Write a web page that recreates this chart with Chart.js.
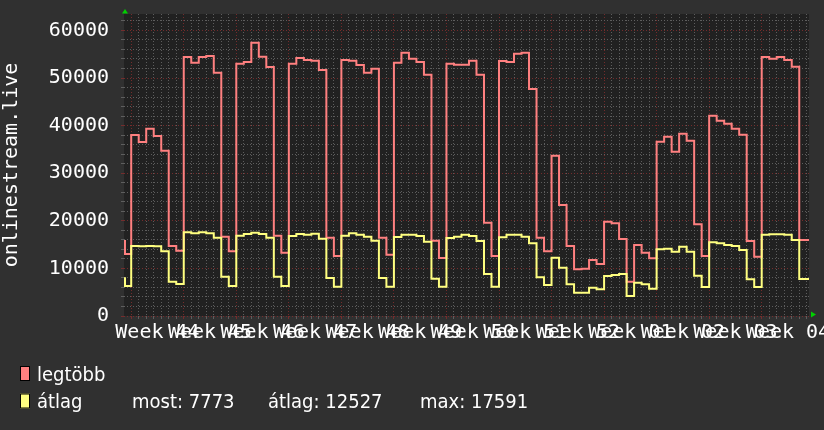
<!DOCTYPE html>
<html lang="hu">
<head>
<meta charset="utf-8">
<title>onlinestream.live</title>
<script src="https://cdn.jsdelivr.net/npm/chart.js@4.4.1/dist/chart.umd.min.js"></script>
<style>
    html, body { margin: 0; padding: 0; background: #303030; }
    #keret { width: 824px; height: 430px; }
</style>
</head>
<body>
<div id="keret"><canvas id="grafikon" width="824" height="430"></canvas></div>
<script>
// hetek a tengelyen (Week 44 ... Week 04)
const hetek = ["44", "45", "46", "47", "48", "49", "50", "51", "52", "01", "02", "03", "04"];

// napi értékek: első elem a grafikon bal szélén lévő rövid darab, utána vasárnap, majd hetenként H-V
const legtobb = [
    15760, 13030,
    38030, 36560, 39360, 37820, 34740, 14710, 13730,
    54410, 53230, 54410, 54620, 51130, 16670, 13590,
    53010, 53370, 57420, 54480, 52320, 16880, 13310,
    53010, 54210, 53790, 53640, 51690, 16460, 12610,
    53790, 53640, 52730, 51130, 51960, 16460, 12890,
    53230, 55320, 54060, 53370, 50700, 15830, 12190,
    53010, 52800, 52800, 53640, 50700, 19610, 12610,
    53580, 53370, 55110, 55320, 47690, 16460, 13590,
    33690, 23320, 14710, 9810, 9940, 11770, 10920,
    19820, 19470, 16180, 7210, 14920, 13300, 12120,
    36620, 37670, 34520, 38300, 36830, 19260, 12610,
    42080, 41030, 40400, 39350, 38090, 15760, 12470,
    54410, 54060, 54410, 53790, 52380, 15970, 15970
];

const atlag = [
    7910, 6300,
    14710, 14640, 14710, 14640, 13590, 7210, 6720,
    17591, 17370, 17580, 17370, 16460, 8260, 6300,
    16880, 17230, 17510, 17230, 16460, 8260, 6300,
    16810, 17230, 17090, 17300, 16250, 7980, 6160,
    16880, 17370, 17090, 16670, 15830, 7980, 6160,
    16600, 17090, 17090, 16810, 15620, 7840, 6160,
    16390, 16670, 17090, 16810, 15760, 8820, 6160,
    16530, 17090, 17090, 16670, 15270, 8120, 6510,
    12250, 10150, 6660, 4900, 4900, 5950, 5600,
    8400, 8610, 8820, 4200, 7000, 6660, 5740,
    14010, 14150, 13520, 14570, 13520, 8470, 6090,
    15480, 15270, 14920, 14710, 13870, 7700, 6090,
    17090, 17160, 17160, 17090, 15970, 7773, 7773
];

const osszesites = ["most: 7773", "átlag: 12527", "max: 17591"];

// időtengely napokban, 0 = a 44. hét hétfője
const xMin = -0.96;
const xMax = 90.3;
const elsoHatar = -0.83;
const yMax = 63450;

const PIROS = "#ff8080";
const SARGA = "#ffff80";
const RACS = "rgba(100, 100, 100, 0.9)";
const FO_RACS = "rgba(120, 45, 45, 0.95)";
const monoBetu = { family: "'DejaVu Sans Mono', monospace", size: 20 };

// pontok az értékekből (lépcsős vonal, utolsó értéket a jobb szélig húzzuk)
const pontok = (ertekek) => {
    const p = ertekek.map((v, i) => ({
        x: i === 0 ? xMin : (i === 1 ? elsoHatar : i - 2),
        y: v
    }));
    p.push({ x: xMax, y: ertekek[ertekek.length - 1] });
    return p;
};

const hatter = {
    id: "hatter",
    beforeDraw(chart) {
        const { ctx, chartArea: a } = chart;
        ctx.save();
        ctx.fillStyle = "#303030";
        ctx.fillRect(0, 0, chart.width, chart.height);
        ctx.fillStyle = "#212121";
        ctx.fillRect(a.left, a.top, a.right - a.left, a.bottom - a.top);
        ctx.restore();
    },
    afterDraw(chart) {
        const { ctx, chartArea: a } = chart;
        ctx.save();
        // zöld nyilak a tengelyek végén
        ctx.fillStyle = "#00d000";
        ctx.beginPath();
        ctx.moveTo(a.left + 1, a.top - 5);
        ctx.lineTo(a.left - 2, a.top - 0.5);
        ctx.lineTo(a.left + 4, a.top - 0.5);
        ctx.closePath();
        ctx.fill();
        ctx.beginPath();
        ctx.moveTo(a.right + 7, a.bottom - 1.5);
        ctx.lineTo(a.right + 2, a.bottom - 4.5);
        ctx.lineTo(a.right + 2, a.bottom + 1.5);
        ctx.closePath();
        ctx.fill();

        // jelmagyarázat
        const sorok = [
            { szin: PIROS, szoveg: "legtöbb", y: 366 },
            { szin: SARGA, szoveg: "átlag", y: 393.5 }
        ];
        ctx.font = "20px 'Liberation Sans Narrow', 'DejaVu Sans Condensed', sans-serif";
        ctx.textBaseline = "alphabetic";
        ctx.textAlign = "left";
        sorok.forEach(s => {
            ctx.fillStyle = s.szin;
            ctx.fillRect(20, s.y, 10, 15);
            ctx.strokeStyle = "#000";
            ctx.lineWidth = 1;
            ctx.strokeRect(20.5, s.y + 0.5, 9, 14);
            ctx.fillStyle = "#ffffff";
            ctx.fillText(s.szoveg, 37, s.y + 14.5);
        });
        const oszlopok = [132, 268, 420];
        osszesites.forEach((t, i) => ctx.fillText(t, oszlopok[i], 408.3));
        ctx.restore();
    }
};

new Chart(document.getElementById("grafikon"), {
    type: "line",
    data: {
        datasets: [
            {
                label: "legtöbb",
                data: pontok(legtobb),
                borderColor: PIROS,
                borderWidth: 2,
                pointRadius: 0,
                stepped: true,
                fill: false,
                order: 2
            },
            {
                label: "átlag",
                data: pontok(atlag),
                borderColor: SARGA,
                borderWidth: 2,
                pointRadius: 0,
                stepped: true,
                fill: false,
                order: 1
            }
        ]
    },
    options: {
        responsive: false,
        animation: false,
        layout: { padding: { left: 0, top: 14, right: 15, bottom: 84 } },
        plugins: { legend: { display: false }, tooltip: { enabled: false } },
        scales: {
            x: {
                type: "linear",
                min: xMin,
                max: xMax,
                afterBuildTicks: axis => {
                    const t = [];
                    for (let d = 0; d <= Math.floor(xMax); d++) {
                        t.push({ value: d });
                        if (d % 7 === 3) t.push({ value: d + 0.5 });
                    }
                    axis.ticks = t;
                },
                afterFit: axis => {
                    axis.height = 30;
                    axis.paddingLeft = 0;
                    axis.paddingRight = 0;
                },
                ticks: {
                    autoSkip: false,
                    maxRotation: 0,
                    minRotation: 0,
                    padding: 2,
                    color: "#ffffff",
                    font: monoBetu,
                    callback: v => Number.isInteger(v) ? "" : "Week " + hetek[Math.floor(v / 7)]
                },
                grid: {
                    color: c => !Number.isInteger(c.tick.value) ? "rgba(0,0,0,0)"
                        : (c.tick.value % 7 === 0 ? FO_RACS : RACS),
                    tickLength: 3,
                    lineWidth: 1
                },
                border: { display: false, dash: [1, 2] }
            },
            y: {
                min: 0,
                max: yMax,
                afterBuildTicks: axis => {
                    const t = [];
                    for (let v = 0; v <= yMax; v += 2000) t.push({ value: v });
                    axis.ticks = t;
                },
                afterFit: axis => {
                    axis.width = 124;
                    axis.paddingTop = 0;
                    axis.paddingBottom = 0;
                },
                ticks: {
                    autoSkip: false,
                    padding: 12,
                    color: "#ffffff",
                    font: monoBetu,
                    callback: v => v % 10000 === 0 ? String(v) : ""
                },
                grid: {
                    color: c => c.tick.value % 10000 === 0 ? FO_RACS : RACS,
                    tickLength: 3,
                    lineWidth: 1
                },
                border: { display: false, dash: [1, 2] },
                title: {
                    display: true,
                    text: "onlinestream.live",
                    color: "#ffffff",
                    font: monoBetu,
                    padding: 0
                }
            }
        }
    },
    plugins: [hatter]
});
</script>
</body>
</html>
